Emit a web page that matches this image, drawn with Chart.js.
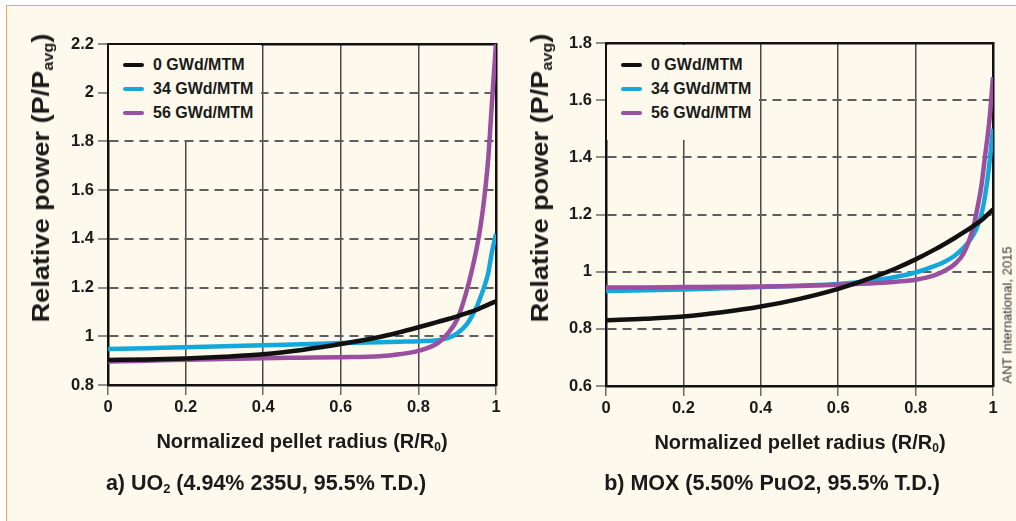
<!DOCTYPE html>
<html>
<head>
<meta charset="utf-8">
<script src="https://cdn.jsdelivr.net/npm/chart.js@4.4.1/dist/chart.umd.min.js"></script>
<style>
  html, body { margin: 0; padding: 0; background: #fff; }
  body { width: 1016px; height: 521px; position: relative; overflow: hidden;
         font-family: 'Liberation Sans', Arial, sans-serif; color: #1a1a1a; }
  #frame { position: absolute; left: 6px; top: 5px; right: 0; bottom: 0; background: #fdf9ec;
           border-top: 1.5px solid #f0ab52; border-left: 1.5px solid #f0ab52; }
  canvas { position: absolute; top: 0; }
  .lbl { position: absolute; white-space: nowrap; font-weight: bold; transform: translate(-50%, -50%); }
  .ytitle { font-size: 24px; transform: translate(-50%, -50%) rotate(-90deg) scaleX(1.13); }
  .xtitle { font-size: 20px; }
  .cap { font-size: 21.5px; }
  sub { font-size: 0.6em; vertical-align: -0.25em; line-height: 0; }
  .legend { position: absolute; top: 45px; width: 152px; height: 95px; background: #fdf9ec; }
  .legend .sw { position: absolute; left: 14px; width: 21px; height: 4.5px; border-radius: 2px; }
  .legend .tx { position: absolute; left: 44px; font-weight: bold; font-size: 16px; line-height: 18px; }
  .copy { position: absolute; left: 1007px; top: 315px; white-space: nowrap; font-size: 13px; color: #333;
          transform: translate(-50%, -50%) rotate(-90deg); }
</style>
</head>
<body>
<div id="frame"></div>
<canvas id="uo2" width="508" height="521" style="left:0"></canvas>
<canvas id="mox" width="508" height="521" style="left:508px"></canvas>

<div class="lbl ytitle" style="left:41px;top:178px">Relative power (P/P<sub>avg</sub>)</div>
<div class="lbl ytitle" style="left:540px;top:178px">Relative power (P/P<sub>avg</sub>)</div>
<div class="lbl xtitle" style="left:302px;top:441px">Normalized pellet radius (R/R<sub>0</sub>)</div>
<div class="lbl xtitle" style="left:800px;top:442px">Normalized pellet radius (R/R<sub>0</sub>)</div>
<div class="lbl cap" style="left:266px;top:483px">a) UO<sub>2</sub> (4.94% 235U, 95.5% T.D.)</div>
<div class="lbl cap" style="left:772px;top:483px">b) MOX (5.50% PuO2, 95.5% T.D.)</div>
<div class="copy">ANT International, 2015</div>
<div class="legend" id="legUo2" style="left:109px"></div>
<div class="legend" id="legMox" style="left:607px"></div>

<script>
// normalized pellet radius sample points (R/R0)
const radius = [0, 0.1, 0.2, 0.3, 0.4, 0.5, 0.6, 0.7, 0.75, 0.8, 0.85, 0.875, 0.9, 0.925, 0.95, 0.96, 0.97, 0.98, 0.99, 1.0];

const seriesLabels = ['0 GWd/MTM', '34 GWd/MTM', '56 GWd/MTM'];
const seriesColors = ['#111111', '#14a7dc', '#9a4f9f'];

// a) UO2 relative power P/Pavg
const uo2Burnup0  = [0.903, 0.905, 0.909, 0.916, 0.926, 0.944, 0.968, 0.997, 1.016, 1.037, 1.059, 1.070, 1.082, 1.095, 1.109, 1.116, 1.123, 1.130, 1.137, 1.144];
const uo2Burnup34 = [0.948, 0.951, 0.955, 0.959, 0.963, 0.967, 0.972, 0.976, 0.978, 0.980, 0.984, 0.992, 1.012, 1.050, 1.120, 1.160, 1.205, 1.260, 1.350, 1.420];
const uo2Burnup56 = [0.896, 0.900, 0.904, 0.907, 0.910, 0.912, 0.914, 0.918, 0.926, 0.940, 0.972, 1.010, 1.070, 1.190, 1.360, 1.450, 1.570, 1.730, 1.970, 2.200];

// b) MOX relative power P/Pavg
const moxBurnup0  = [0.830, 0.835, 0.843, 0.858, 0.878, 0.905, 0.940, 0.985, 1.012, 1.043, 1.078, 1.097, 1.117, 1.138, 1.160, 1.170, 1.180, 1.192, 1.205, 1.218];
const moxBurnup34 = [0.932, 0.935, 0.938, 0.942, 0.946, 0.951, 0.957, 0.970, 0.982, 0.997, 1.020, 1.035, 1.055, 1.085, 1.130, 1.160, 1.200, 1.270, 1.370, 1.500];
const moxBurnup56 = [0.945, 0.945, 0.946, 0.947, 0.948, 0.950, 0.954, 0.960, 0.965, 0.972, 0.988, 1.003, 1.025, 1.066, 1.160, 1.225, 1.300, 1.410, 1.520, 1.680];

// tick labels
const radiusTicks = [0, 0.2, 0.4, 0.6, 0.8, 1];
const uo2Ticks = [0.8, 1, 1.2, 1.4, 1.6, 1.8, 2, 2.2];
const moxTicks = [0.6, 0.8, 1, 1.2, 1.4, 1.6, 1.8];

const FONT = "'Liberation Sans', Arial, sans-serif";
const CLEAR = 'rgba(0,0,0,0)';

function makeChart(id, legendId, values, yTicks, layout) {
  const yMin = yTicks[0], yMax = yTicks[yTicks.length - 1];
  const drawOrder = [0, 2, 1]; // purple above cyan, black on top
  const datasets = values.map((v, i) => ({
    label: seriesLabels[i],
    data: radius.map((r, j) => ({x: r, y: v[j]})),
    borderColor: seriesColors[i],
    backgroundColor: seriesColors[i],
    borderWidth: 4.5,
    pointRadius: 0,
    cubicInterpolationMode: 'monotone',
    order: drawOrder[i],
  }));

  const chart = new Chart(document.getElementById(id), {
    type: 'line',
    data: {datasets},
    options: {
      responsive: false,
      animation: false,
      events: [],
      layout: {padding: {left: 0, top: layout.top, right: layout.right, bottom: 0}},
      plugins: {legend: {display: false}, tooltip: {enabled: false}},
      scales: {
        x: {
          type: 'linear', position: 'bottom', min: 0, max: 1,
          afterBuildTicks: s => { s.ticks = radiusTicks.map(v => ({value: v})); },
          afterFit: s => { s.height = layout.xHeight; },
          grid: {
            color: c => (c.tick && (c.tick.value === 0 || c.tick.value === 1)) ? CLEAR : '#4a4a4a',
            lineWidth: 1.5, tickLength: 10, tickWidth: 1.5, tickColor: '#6a6a6a',
          },
          border: {color: '#111', width: 2.5},
          ticks: {
            font: {family: FONT, size: 16.5, weight: 'bold'}, color: '#1a1a1a',
            padding: 3, maxRotation: 0, autoSkip: false,
            callback: v => String(v),
          },
        },
        y: {
          type: 'linear', position: 'left', min: yMin, max: yMax,
          afterBuildTicks: s => { s.ticks = yTicks.map(v => ({value: v})); },
          afterFit: s => { s.width = layout.yWidth; },
          grid: {
            color: c => (c.tick && (c.tick.value === yMin || c.tick.value === yMax)) ? CLEAR : '#5e5e5e',
            lineWidth: 2, tickLength: 10, tickWidth: 1.5, tickColor: '#6a6a6a',
          },
          border: {color: '#111', width: 2.5, dash: [9, 6]},
          ticks: {
            font: {family: FONT, size: 16.5, weight: 'bold'}, color: '#1a1a1a',
            padding: 4, autoSkip: false,
            callback: v => String(v),
          },
        },
        x2: {
          type: 'linear', position: 'top', min: 0, max: 1,
          afterFit: s => { s.height = 0; },
          grid: {drawOnChartArea: false, drawTicks: false},
          ticks: {display: false},
          border: {color: '#111', width: 2.5},
        },
        y2: {
          type: 'linear', position: 'right', min: yMin, max: yMax,
          afterFit: s => { s.width = 0; },
          grid: {drawOnChartArea: false, drawTicks: false},
          ticks: {display: false},
          border: {color: '#111', width: 2.5},
        },
      },
    },
  });

  // html legend built from the chart's datasets (its box hides the grid behind it)
  const box = document.getElementById(legendId);
  chart.data.datasets.forEach((ds, i) => {
    const cy = 20 + 24 * i;
    const sw = document.createElement('div');
    sw.className = 'sw';
    sw.style.top = (cy - 2.25) + 'px';
    sw.style.background = ds.borderColor;
    const tx = document.createElement('div');
    tx.className = 'tx';
    tx.style.top = (cy - 9) + 'px';
    tx.textContent = ds.label;
    box.appendChild(sw);
    box.appendChild(tx);
  });
  return chart;
}

makeChart('uo2', 'legUo2', [uo2Burnup0, uo2Burnup34, uo2Burnup56], uo2Ticks,
  {top: 44, right: 12, xHeight: 136, yWidth: 108});
makeChart('mox', 'legMox', [moxBurnup0, moxBurnup34, moxBurnup56], moxTicks,
  {top: 43, right: 23, xHeight: 135, yWidth: 98});
</script>
</body>
</html>
